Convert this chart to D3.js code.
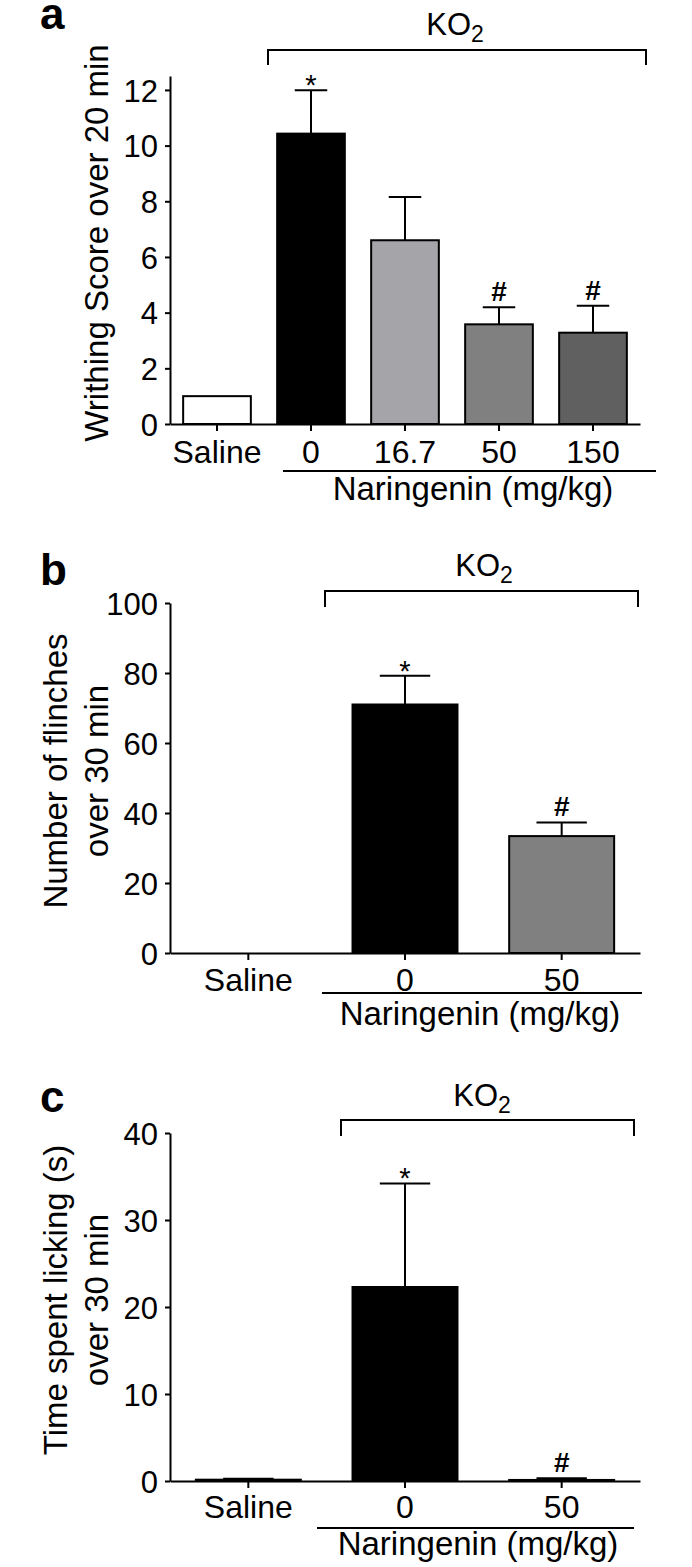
<!DOCTYPE html>
<html>
<head>
<meta charset="utf-8">
<script src="https://cdn.jsdelivr.net/npm/d3@7"></script>
<style>
  body { margin: 0; background: #fff; }
  text { font-family: Arial, "Liberation Sans", Helvetica, sans-serif; fill: #000; }
</style>
</head>
<body>
<svg id="fig" width="692" height="1567"></svg>
<script>
// panel a - writhing
const aGroups = ["Saline", "0", "16.7", "50", "150"];
const aMeans = [1.0, 10.43, 6.6, 3.58, 3.28];
const aErrors = [0, 1.56, 1.55, 0.61, 0.97];
const aMarks = ["", "*", "", "#", "#"];
const aFills = ["#ffffff", "#000000", "#a4a4a9", "#808080", "#606060"];
const aTicks = [0, 2, 4, 6, 8, 10, 12];

// panel b - flinches
const bGroups = ["Saline", "0", "50"];
const bMeans = [0, 71.0, 33.4];
const bErrors = [0, 8.2, 3.9];
const bMarks = ["", "*", "#"];
const bFills = ["#ffffff", "#000000", "#808080"];
const bTicks = [0, 20, 40, 60, 80, 100];

// panel c - licking
const cGroups = ["Saline", "0", "50"];
const cMeans = [0.15, 22.3, 0.12];
const cErrors = [0.1, 11.9, 0.2];
const cMarks = ["", "*", "#"];
const cFills = ["#ffffff", "#000000", "#808080"];
const cTicks = [0, 10, 20, 30, 40];

const svg = d3.select("#fig");

function drawPanel(p) {
  const g = svg.append("g");
  const left = 170, right = 640;

  const x = d3.scaleBand()
    .domain(p.groups)
    .range([left, right])
    .paddingInner(p.pad)
    .paddingOuter(p.pad / 2);

  const y = d3.scaleLinear()
    .domain([0, p.max])
    .range([p.zero, p.top]);

  // bars
  g.selectAll(".bar")
    .data(p.groups)
    .enter()
    .append("rect")
    .attr("x", d => x(d))
    .attr("width", x.bandwidth())
    .attr("y", (d, i) => y(p.means[i]))
    .attr("height", (d, i) => y(0) - y(p.means[i]))
    .attr("fill", (d, i) => p.fills[i])
    .attr("stroke", "#000")
    .attr("stroke-width", 2);

  // error bars (upper half only)
  const cap = x.bandwidth() * 0.24;
  p.groups.forEach((d, i) => {
    if (!p.errors[i]) return;
    const cx = x(d) + x.bandwidth() / 2;
    const top = y(p.means[i] + p.errors[i]);
    g.append("line")
      .attr("x1", cx).attr("x2", cx)
      .attr("y1", y(p.means[i])).attr("y2", top)
      .attr("stroke", "#000").attr("stroke-width", 2);
    g.append("line")
      .attr("x1", cx - cap).attr("x2", cx + cap)
      .attr("y1", top).attr("y2", top)
      .attr("stroke", "#000").attr("stroke-width", 2);

    const mark = p.marks[i];
    if (mark === "*") {
      g.append("text")
        .attr("x", cx).attr("y", top + 5)
        .attr("text-anchor", "middle")
        .attr("font-size", 29)
        .text("*");
    } else if (mark === "#") {
      g.append("text")
        .attr("x", cx).attr("y", top - 6)
        .attr("text-anchor", "middle")
        .attr("font-size", 28)
        .attr("font-weight", "bold")
        .text("#");
    }
  });

  // y axis
  const yAxis = d3.axisLeft(y)
    .tickValues(p.ticks)
    .tickSize(5)
    .tickSizeOuter(0)
    .tickPadding(7);
  const ya = g.append("g")
    .attr("transform", `translate(${left},0)`)
    .call(yAxis);
  ya.attr("font-family", null).attr("font-size", null);
  ya.selectAll("path, line").attr("stroke", "#000").attr("stroke-width", 2);
  ya.selectAll("text")
    .attr("font-size", 31)
    .attr("dy", "0.36em");

  // x axis
  const xAxis = d3.axisBottom(x)
    .tickSize(7)
    .tickSizeOuter(0)
    .tickFormat("");
  const xa = g.append("g")
    .attr("transform", `translate(0,${p.zero})`)
    .call(xAxis);
  xa.selectAll("path, line").attr("stroke", "#000").attr("stroke-width", 2);

  g.selectAll(".cat")
    .data(p.groups)
    .enter()
    .append("text")
    .attr("x", d => x(d) + x.bandwidth() / 2)
    .attr("y", p.zero + p.catDy)
    .attr("text-anchor", "middle")
    .attr("font-size", 32)
    .text(d => d);

  // naringenin underline + label
  g.append("line")
    .attr("x1", p.ul[0]).attr("x2", p.ul[1])
    .attr("y1", p.zero + p.ulDy).attr("y2", p.zero + p.ulDy)
    .attr("stroke", "#000").attr("stroke-width", 2);
  g.append("text")
    .attr("x", p.narX)
    .attr("y", p.zero + p.narDy)
    .attr("text-anchor", "middle")
    .attr("font-size", 33)
    .text("Naringenin (mg/kg)");

  // KO2 bracket
  const br = p.bracket;
  g.append("path")
    .attr("d", `M${br[0]},${br[3]}V${br[2]}H${br[1]}V${br[3]}`)
    .attr("fill", "none")
    .attr("stroke", "#000")
    .attr("stroke-width", 2);
  const ko = g.append("text")
    .attr("x", p.koX)
    .attr("y", p.koY)
    .attr("text-anchor", "middle")
    .attr("font-size", 31);
  ko.append("tspan").text("KO");
  ko.append("tspan").attr("dy", 7).attr("font-size", 23).text("2");

  // y title
  const midY = (p.top + p.zero) / 2 - 7;
  const yt = g.append("text")
    .attr("transform", `translate(0,${midY}) rotate(-90)`)
    .attr("text-anchor", "middle")
    .attr("font-size", 33);
  p.title.forEach((line, i) => {
    yt.append("tspan")
      .attr("x", 0)
      .attr("y", p.titleX[i])
      .text(line);
  });

  // panel letter
  g.append("text")
    .attr("x", 40)
    .attr("y", p.letterY)
    .attr("font-size", 44)
    .attr("font-weight", "bold")
    .text(p.letter);
}

drawPanel({
  letter: "a", letterY: 29,
  groups: aGroups, means: aMeans, errors: aErrors, marks: aMarks, fills: aFills,
  ticks: aTicks, max: 12.5, top: 76, zero: 424, pad: 0.28,
  catDy: 39, ul: [283, 656], ulDy: 47, narX: 473, narDy: 76,
  bracket: [268, 646, 50, 65], koX: 455, koY: 35,
  title: ["Writhing Score over 20 min"], titleX: [108]
});

drawPanel({
  letter: "b", letterY: 585,
  groups: bGroups, means: bMeans, errors: bErrors, marks: bMarks, fills: bFills,
  ticks: bTicks, max: 100, top: 603, zero: 953, pad: 0.33,
  catDy: 38, ul: [322, 642], ulDy: 40, narX: 480, narDy: 72,
  bracket: [325, 638, 591, 607], koX: 484, koY: 576,
  title: ["Number of flinches", "over 30 min"], titleX: [67, 108]
});

drawPanel({
  letter: "c", letterY: 1112,
  groups: cGroups, means: cMeans, errors: cErrors, marks: cMarks, fills: cFills,
  ticks: cTicks, max: 40, top: 1133, zero: 1481, pad: 0.33,
  catDy: 37, ul: [317, 634], ulDy: 47, narX: 478, narDy: 74,
  bracket: [341, 634, 1120, 1136], koX: 482, koY: 1106,
  title: ["Time spent licking (s)", "over 30 min"], titleX: [67, 108]
});
</script>
</body>
</html>
